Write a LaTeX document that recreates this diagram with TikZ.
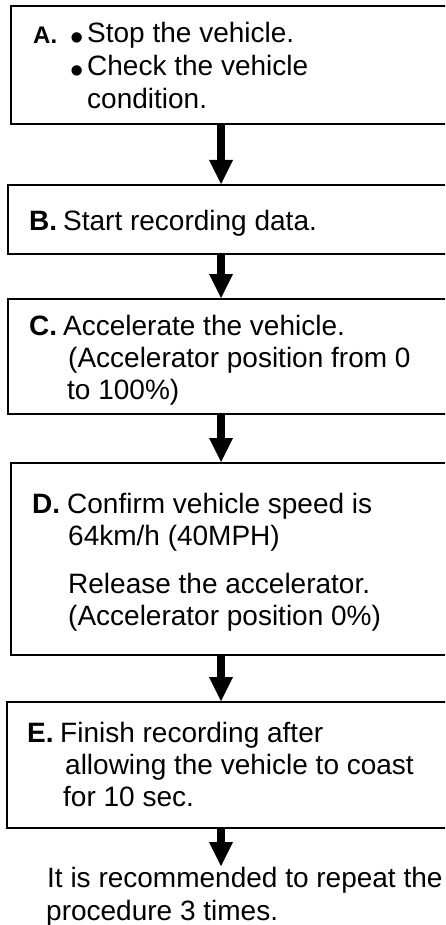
\documentclass[tikz,border=0pt]{standalone}
\usepackage{fontspec}
\setmainfont{Liberation Sans}
\usetikzlibrary{arrows.meta}
\begin{document}
\begin{tikzpicture}[x=1pt,y=-1pt,
  box/.style={draw, line width=1.6pt, minimum width=500pt, anchor=north west, inner sep=0pt},
  txt/.style={anchor=base west, inner sep=0pt, font=\fontsize{28}{33}\selectfont},
  lbl/.style={anchor=base west, inner sep=0pt, font=\fontsize{28}{33}\selectfont\bfseries},
  smlbl/.style={anchor=base west, inner sep=0pt, font=\fontsize{24}{28}\selectfont\bfseries},
  bul/.style={anchor=base west, inner sep=0pt, font=\fontsize{38}{40}\selectfont},
  flow/.style={line width=8pt, -{Triangle[width=24pt,length=24pt,line width=0pt]}}]
\useasboundingbox (0,0) rectangle (445,925);
\clip (0,0) rectangle (445,925);
% boxes
\node[box, minimum height=118pt] (A) at (10,5) {};
\node[box, minimum height=69pt]  (B) at (7,184) {};
\node[box, minimum height=115pt] (C) at (7,298) {};
\node[box, minimum height=192pt] (D) at (10,462) {};
\node[box, minimum height=126pt] (E) at (6,701) {};
% texts A
\node[smlbl] (la) at (33,44) {A.};
\node[bul] (ab1) at (70,43) {\smash{\raisebox{-8pt}{•}}};
\node[txt] (a1) at (87,43) {Stop the vehicle.};
\node[bul] (ab2) at (70,76) {\smash{\raisebox{-8pt}{•}}};
\node[txt] (a2) at (87,76) {Check the vehicle};
\node[txt] (a3) at (87,109) {condition.};
% texts B
\node[lbl] (lb) at (29,230) {B.};
\node[txt] (b1) at (63,230) {Start recording data.};
% texts C
\node[lbl] (lc) at (29,335) {C.};
\node[txt] (c1) at (63,335) {Accelerate the vehicle.};
\node[txt] (c2) at (68,367) {(Accelerator position from 0};
\node[txt] (c3) at (67,399) {to 100\%)};
% texts D
\node[lbl] (ld) at (32,513) {D.};
\node[txt] (d1) at (67,513) {Confirm vehicle speed is};
\node[txt] (d2) at (68,545) {64km/h (40MPH)};
\node[txt] (d3) at (68,593) {Release the accelerator.};
\node[txt] (d4) at (68,625) {(Accelerator position 0\%)};
% texts E
\node[lbl] (le) at (27,742) {E.};
\node[txt] (e1) at (60,742) {Finish recording after};
\node[txt] (e2) at (65,774) {allowing the vehicle to coast};
\node[txt] (e3) at (63,806) {for 10 sec.};
% final note
\node[txt] (f1) at (47,887) {It is recommended to repeat the};
\node[txt] (f2) at (46,920) {procedure 3 times.};
% connectors
\coordinate (ax) at (221,0);
\coordinate (fin) at (221,866);
\draw[flow] (A.south -| ax) -- (B.north -| ax);
\draw[flow] (B.south -| ax) -- (C.north -| ax);
\draw[flow] (C.south -| ax) -- (D.north -| ax);
\draw[flow] (D.south -| ax) -- (E.north -| ax);
\draw[flow] (E.south -| ax) -- (fin);
\end{tikzpicture}
\end{document}
